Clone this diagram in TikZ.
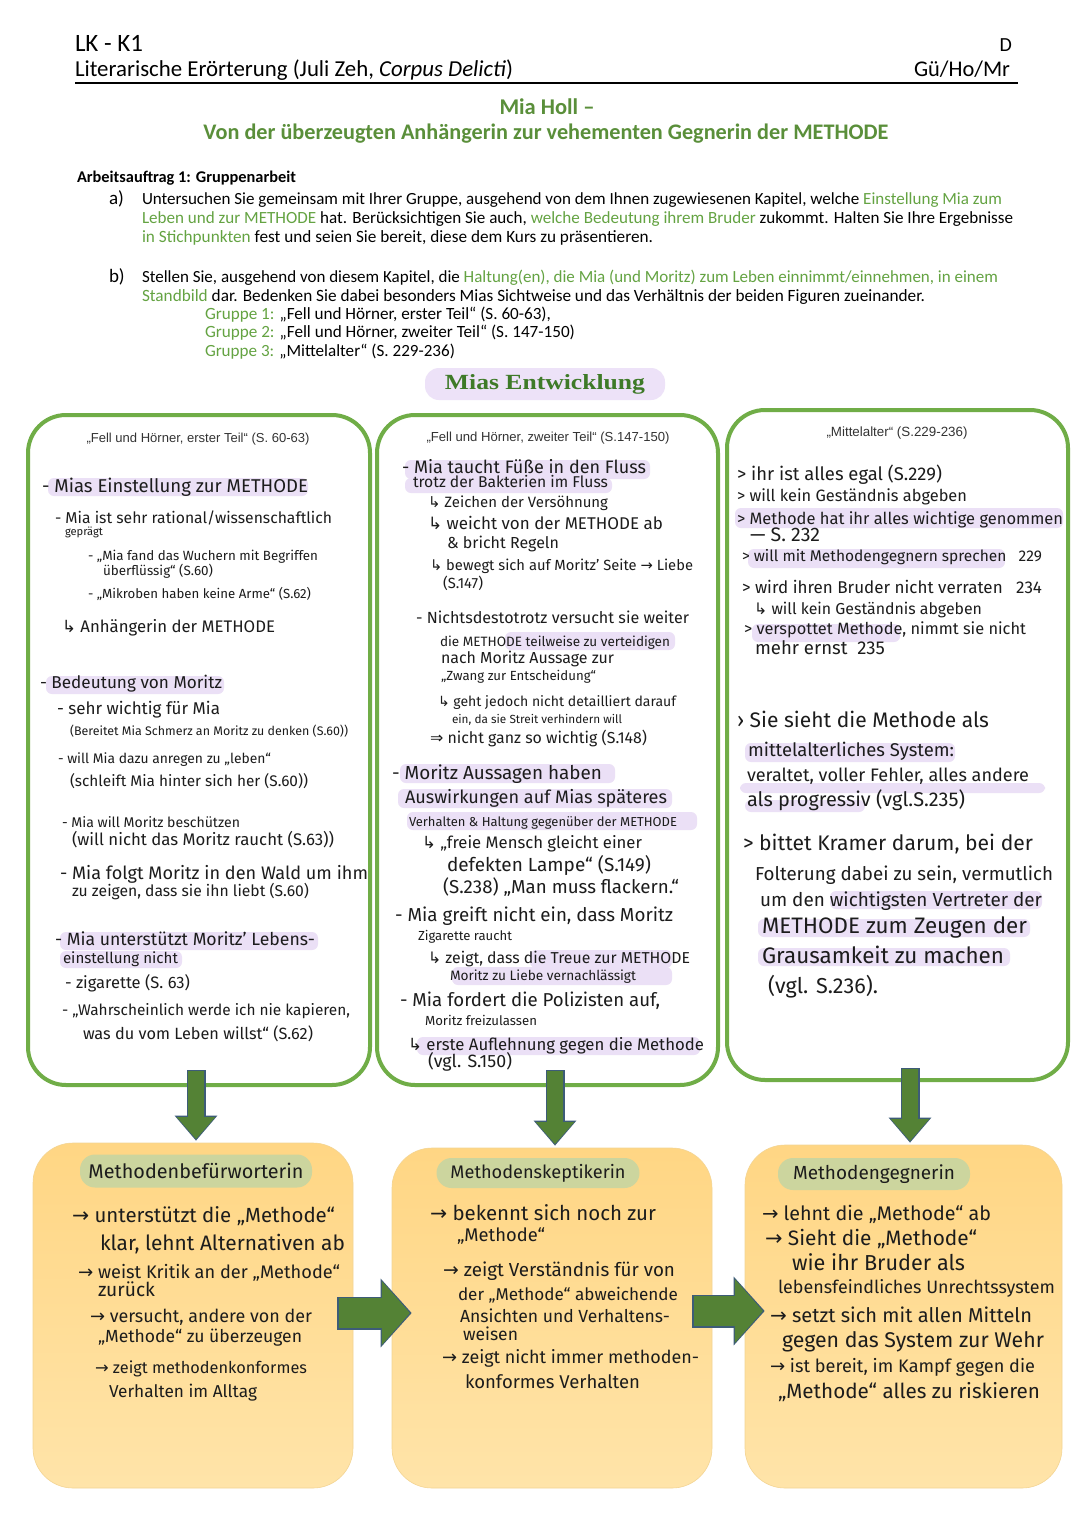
\documentclass[tikz,border=0pt]{standalone}
\usepackage{fontspec}
\usepackage{graphicx}
\setmainfont{Carlito}
\newfontfamily\hwf{Fira Sans}
\newfontfamily\arialf{Liberation Sans}
\newfontfamily\seriff{Liberation Serif}
\newfontfamily\symf{DejaVu Sans}
\usetikzlibrary{calc,arrows.meta}

\definecolor{boxgreen}{HTML}{70AD47}
\definecolor{arrowgreen}{HTML}{548235}
\definecolor{arrowborder}{HTML}{3D5C78}
\definecolor{hl}{HTML}{EBE0F6}
\definecolor{hlpill}{HTML}{EDE2F8}
\definecolor{pillgreen}{HTML}{CCD59E}
\definecolor{boxtop}{HTML}{FFD684}
\definecolor{boxbot}{HTML}{FFE4A9}
\definecolor{boxedge}{HTML}{F3D594}
\definecolor{titlegreen}{HTML}{5A8F3A}
\definecolor{taskgreen}{HTML}{64A342}
\definecolor{pilltext}{HTML}{3E7A28}
\definecolor{ink}{HTML}{1C1C1C}
\definecolor{hdgray}{HTML}{333333}

\newcommand\grn[1]{\textcolor{taskgreen}{#1}}
\newcommand\arrR{{\symf →}}
\newcommand\hkarr{{\symf ↳}}
\newcommand\Rarr{{\symf ⇒}}
\newcommand\hw[5]{\node[hwt] (#1) at (#2,#3) {\resizebox{#4pt}{!}{#5}};}
\newcommand\fatpair[3]{\draw[arrowborder,#1] #2 -- #3; \draw[arrowgreen,#1i] #2 -- #3;}

\tikzset{
  hwt/.style={anchor=base west, inner sep=0pt, outer sep=0pt, text=ink, font=\hwf\fontsize{14}{16}\selectfont},
  typ/.style={anchor=base west, inner sep=0pt, outer sep=0pt, text=black, font=\fontsize{16}{19}\selectfont},
  colhead/.style={anchor=base, inner sep=0pt, text=hdgray, font=\arialf\fontsize{12}{14}\selectfont},
  colbox/.style={draw=boxgreen, line width=4pt, rounded corners=38pt, fill=white, inner sep=0pt},
  botbox/.style={rounded corners=40pt, top color=boxtop, bottom color=boxbot, draw=boxedge, line width=0.6pt, inner sep=0pt},
  pill/.style={fill=pillgreen, rounded corners=15pt, inner sep=0pt, text=ink, font=\hwf\fontsize{14}{16}\selectfont},
  hlbar/.style={fill=hl, rounded corners=6pt},
  fatD/.style={line width=19pt, -{Triangle[width=41pt,length=25pt]}},
  fatDi/.style={line width=16pt, -{Triangle[width=37pt,length=22pt]}, shorten >=1.6pt, shorten <=1.2pt},
  fatR/.style={line width=33pt, -{Triangle[width=67pt,length=31pt]}},
  fatRi/.style={line width=30pt, -{Triangle[width=62pt,length=28pt]}, shorten >=1.8pt, shorten <=1.2pt},
}

\begin{document}
\begin{tikzpicture}[x=1pt, y=-1pt]
\useasboundingbox (0,0) rectangle (1080,1528);
\fill[white] (0,0) rectangle (1080,1528);

% ---------- page header ----------
\node[typ, font=\fontsize{20}{24}\selectfont] (hdA) at (75,52) {\resizebox{68pt}{!}{LK - K1}};
\node[typ, anchor=base east, font=\fontsize{20}{24}\selectfont] (hdB) at (1012,52) {D};
\node[typ] (hdC) at (75,77) {\resizebox{438pt}{!}{Literarische Erörterung (Juli Zeh, \textit{Corpus Delicti})}};
\node[typ, anchor=base east] (hdD) at (1010,77) {\resizebox{96pt}{!}{Gü/Ho/Mr}};
\draw[line width=1.2pt] (75,83) -- (1018,83);

% ---------- title ----------
\node[typ, anchor=base, text=titlegreen, font=\bfseries\fontsize{20}{24}\selectfont] (ti1) at (547,114) {\resizebox{95pt}{!}{Mia Holl –}};
\node[typ, anchor=base, text=titlegreen, font=\bfseries\fontsize{20}{24}\selectfont] (ti2) at (546,139) {\resizebox{685pt}{!}{Von der überzeugten Anhängerin zur vehementen Gegnerin der METHODE}};

% ---------- task ----------
\node[typ, font=\bfseries\fontsize{16}{19}\selectfont] (aa) at (77,182) {\resizebox{219pt}{!}{Arbeitsauftrag 1: Gruppenarbeit}};
\node[typ, font=\fontsize{19}{22}\selectfont] (la) at (109,204) {a)};
\node[typ] (ta1) at (142,204) {\resizebox{860pt}{!}{Untersuchen Sie gemeinsam mit Ihrer Gruppe, ausgehend von dem Ihnen zugewiesenen Kapitel, welche \grn{Einstellung Mia zum}}};
\node[typ] (ta2) at (142,223) {\resizebox{871pt}{!}{\grn{Leben und zur METHODE} hat. Berücksichtigen Sie auch, \grn{welche Bedeutung ihrem Bruder} zukommt. Halten Sie Ihre Ergebnisse}};
\node[typ] (ta3) at (142,242) {\resizebox{511pt}{!}{\grn{in Stichpunkten} fest und seien Sie bereit, diese dem Kurs zu präsentieren.}};
\node[typ, font=\fontsize{19}{22}\selectfont] (lb) at (109,282) {b)};
\node[typ] (tb1) at (142,282) {\resizebox{856pt}{!}{Stellen Sie, ausgehend von diesem Kapitel, die \grn{Haltung(en), die Mia (und Moritz) zum Leben einnimmt/einnehmen, in einem}}};
\node[typ] (tb2) at (142,301) {\resizebox{783pt}{!}{\grn{Standbild} dar. Bedenken Sie dabei besonders Mias Sichtweise und das Verhältnis der beiden Figuren zueinander.}};
\node[typ] (tg1) at (205,319) {\resizebox{346pt}{!}{\grn{Gruppe 1:} „Fell und Hörner, erster Teil“ (S. 60-63),}};
\node[typ] (tg2) at (205,337) {\resizebox{370pt}{!}{\grn{Gruppe 2:} „Fell und Hörner, zweiter Teil“ (S. 147-150)}};
\node[typ] (tg3) at (205,356) {\resizebox{250pt}{!}{\grn{Gruppe 3:} „Mittelalter“ (S. 229-236)}};

% ---------- Mias Entwicklung ----------
\node[fill=hlpill, rounded corners=14pt, minimum width=240pt, minimum height=32pt, inner sep=0pt] (mias) at (545,384) {\resizebox{200pt}{15pt}{\seriff\bfseries\color{pilltext}Mias Entwicklung}};

% ---------- boxes ----------
\node[colbox, minimum width=342pt, minimum height=670pt] (col1) at (199,750) {};
\node[colbox, minimum width=341pt, minimum height=670pt] (col2) at (547.5,750) {};
\node[colbox, minimum width=341pt, minimum height=670pt] (col3) at (897.5,745) {};

\node[botbox, minimum width=320pt, minimum height=345pt] (bot1) at (193,1315.5) {};
\node[botbox, minimum width=320pt, minimum height=340pt] (bot2) at (552,1318) {};
\node[botbox, minimum width=317pt, minimum height=343pt] (bot3) at (903.5,1316.5) {};

% ---------- arrows ----------
\fatpair{fatD}{($(col1.south)+(-3,-17)$)}{($(bot1.north)+(3,-2)$)}
\fatpair{fatD}{($(col2.south)+(7.5,-17)$)}{($(bot2.north)+(3,-2)$)}
\fatpair{fatD}{($(col3.south)+(12.5,-14)$)}{($(bot3.north)+(6.5,-2)$)}
\fatpair{fatR}{($(bot1.east)+(-16,-2.5)$)}{($(bot2.west)+(20,-5)$)}
\fatpair{fatR}{($(bot2.east)+(-20,-7)$)}{($(bot3.west)+(20,-5.5)$)}

% ---------- highlights ----------
\fill[hlbar] (48,478) rectangle (308,496);
\fill[hlbar] (46,676) rectangle (224,694);
\fill[hlbar] (60,932) rectangle (318,950);
\fill[hlbar] (60,951) rectangle (182,968);
\fill[hlbar] (405,460) rectangle (650,479);
\fill[hlbar] (405,478) rectangle (612,493);
\fill[hlbar] (505,632) rectangle (675,650);
\fill[hlbar] (400,764) rectangle (615,783);
\fill[hlbar] (398,789) rectangle (672,808);
\fill[hlbar] (407,812) rectangle (697,830);
\fill[hlbar] (530,950) rectangle (672,968);
\fill[hlbar] (452,967) rectangle (672,985);
\fill[hlbar] (417,1037) rectangle (700,1055);
\fill[hlbar] (735,508) rectangle (1063,528);
\fill[hlbar] (748,549) rectangle (1005,568);
\fill[hlbar] (752,624) rectangle (900,642);
\fill[hlbar] (745,743) rectangle (955,762);
\fill[hlbar] (740,783) rectangle (1045,793);
\fill[hlbar] (745,800) rectangle (865,812);
\fill[hlbar] (830,891) rectangle (1042,909);
\fill[hlbar] (758,919) rectangle (1030,937);
\fill[hlbar] (758,948) rectangle (1010,966);

% ---------- column headers ----------
\node[colhead] (hd1) at (198,442) {\resizebox{223pt}{!}{„Fell und Hörner, erster Teil“ (S. 60-63)}};
\node[colhead] (hd2) at (548,441) {\resizebox{243pt}{!}{„Fell und Hörner, zweiter Teil“ (S.147-150)}};
\node[colhead] (hd3) at (897,436) {\resizebox{141pt}{!}{„Mittelalter“ (S.229-236)}};

% ---------- column 1 ----------
\hw{c1a}{42}{492}{266}{- Mias Einstellung zur METHODE}
\hw{c1b}{55}{523}{277}{- Mia ist sehr rational/wissenschaftlich}
\hw{c1c}{65}{535}{38}{geprägt}
\hw{c1d}{88}{560}{230}{- „Mia fand das Wuchern mit Begriffen}
\hw{c1e}{103}{575}{110}{überflüssig“ (S.60)}
\hw{c1f}{88}{598}{223}{- „Mikroben haben keine Arme“ (S.62)}
\hw{c1g}{62}{632}{213}{\hkarr\ Anhängerin der METHODE}
\hw{c1h}{40}{688}{182}{- Bedeutung von Moritz}
\hw{c1i}{57}{714}{163}{- sehr wichtig für Mia}
\hw{c1j}{70}{735}{278}{(Bereitet Mia Schmerz an Moritz zu denken (S.60))}
\hw{c1k}{58}{763}{213}{- will Mia dazu anregen zu „leben“}
\hw{c1l}{70}{786}{238}{(schleift Mia hinter sich her (S.60))}
\hw{c1m}{62}{827}{178}{- Mia will Moritz beschützen}
\hw{c1n}{72}{845}{262}{(will nicht das Moritz raucht (S.63))}
\hw{c1o}{60}{879}{308}{- Mia folgt Moritz in den Wald um ihm}
\hw{c1p}{72}{896}{237}{zu zeigen, dass sie ihn liebt (S.60)}
\hw{c1q}{55}{945}{260}{- Mia unterstützt Moritz’ Lebens-}
\hw{c1r}{63}{963}{115}{einstellung nicht}
\hw{c1s}{65}{988}{125}{- zigarette (S. 63)}
\hw{c1t}{62}{1015}{288}{- „Wahrscheinlich werde ich nie kapieren,}
\hw{c1u}{83}{1039}{230}{was du vom Leben willst“ (S.62)}

% ---------- column 2 ----------
\hw{c2a}{402}{473}{244}{- Mia taucht Füße in den Fluss}
\hw{c2b}{413}{487}{195}{trotz der Bakterien im Fluss}
\hw{c2c}{428}{507}{180}{\hkarr\ Zeichen der Versöhnung}
\hw{c2d}{428}{529}{235}{\hkarr\ weicht von der METHODE ab}
\hw{c2e}{447}{548}{112}{\& bricht Regeln}
\hw{c2f}{430}{570}{263}{\hkarr\ bewegt sich auf Moritz’ Seite \arrR\ Liebe}
\hw{c2g}{443}{588}{40}{(S.147)}
\hw{c2h}{416}{623}{273}{- Nichtsdestotrotz versucht sie weiter}
\hw{c2i}{440}{646}{230}{die METHODE teilweise zu verteidigen}
\hw{c2j}{441}{663}{173}{nach Moritz Aussage zur}
\hw{c2k}{441}{680}{155}{„Zwang zur Entscheidung“}
\hw{c2l}{438}{706}{238}{\hkarr\ geht jedoch nicht detailliert darauf}
\hw{c2m}{452}{723}{170}{ein, da sie Streit verhindern will}
\hw{c2n}{430}{743}{217}{\Rarr\ nicht ganz so wichtig (S.148)}
\hw{c2o}{392}{779}{210}{- Moritz Aussagen haben}
\hw{c2p}{405}{803}{262}{Auswirkungen auf Mias späteres}
\hw{c2q}{409}{826}{268}{Verhalten \& Haltung gegenüber der METHODE}
\hw{c2r}{422}{848}{220}{\hkarr\ „freie Mensch gleicht einer}
\hw{c2s}{447}{871}{204}{defekten Lampe“ (S.149)}
\hw{c2t}{443}{893}{236}{(S.238) „Man muss flackern.“}
\hw{c2u}{395}{921}{278}{- Mia greift nicht ein, dass Moritz}
\hw{c2v}{418}{940}{94}{Zigarette raucht}
\hw{c2w}{428}{963}{262}{\hkarr\ zeigt, dass die Treue zur METHODE}
\hw{c2x}{450}{980}{186}{Moritz zu Liebe vernachlässigt}
\hw{c2y}{400}{1006}{260}{- Mia fordert die Polizisten auf,}
\hw{c2z}{425}{1025}{112}{Moritz freizulassen}
\hw{c2A}{408}{1050}{296}{\hkarr\ erste Auflehnung gegen die Methode}
\hw{c2B}{428}{1067}{84}{(vgl. S.150)}

% ---------- column 3 ----------
\hw{c3a}{737}{480}{205}{> ihr ist alles egal (S.229)}
\hw{c3b}{737}{501}{230}{> will kein Geständnis abgeben}
\hw{c3c}{737}{524}{326}{> Methode hat ihr alles wichtige genommen}
\hw{c3d}{750}{541}{70}{— S. 232}
\hw{c3e}{742}{561}{300}{> will mit Methodengegnern sprechen \ \ 229}
\hw{c3f}{742}{593}{300}{> wird ihren Bruder nicht verraten \ \ 234}
\hw{c3g}{754}{614}{228}{\hkarr\ will kein Geständnis abgeben}
\hw{c3h}{744}{634}{282}{> verspottet Methode, nimmt sie nicht}
\hw{c3i}{755}{654}{130}{mehr ernst \ 235}
\hw{c3j}{737}{727}{252}{› Sie sieht die Methode als}
\hw{c3k}{748}{756}{206}{mittelalterliches System:}
\hw{c3l}{747}{781}{282}{veraltet, voller Fehler, alles andere}
\hw{c3m}{747}{806}{218}{als progressiv (vgl.S.235)}
\hw{c3n}{743}{850}{290}{> bittet Kramer darum, bei der}
\hw{c3o}{755}{880}{298}{Folterung dabei zu sein, vermutlich}
\hw{c3p}{760}{906}{282}{um den wichtigsten Vertreter der}
\hw{c3q}{762}{933}{265}{METHODE zum Zeugen der}
\hw{c3r}{762}{963}{242}{Grausamkeit zu machen}
\hw{c3s}{768}{993}{110}{(vgl. S.236).}

% ---------- bottom pills ----------
\node[pill, minimum width=232pt, minimum height=33pt] (p1) at (196,1171) {\resizebox{215pt}{!}{Methodenbefürworterin}};
\node[pill, minimum width=203pt, minimum height=30pt] (p2) at (538,1173) {\resizebox{175pt}{!}{Methodenskeptikerin}};
\node[pill, minimum width=192pt, minimum height=32pt] (p3) at (874,1174) {\resizebox{162pt}{!}{Methodengegnerin}};

% ---------- bottom box 1 ----------
\hw{b1a}{72}{1222}{263}{\arrR\ unterstützt die „Methode“}
\hw{b1b}{100}{1250}{245}{klar, lehnt Alternativen ab}
\hw{b1c}{78}{1278}{262}{\arrR\ weist Kritik an der „Methode“}
\hw{b1d}{98}{1296}{57}{zurück}
\hw{b1e}{90}{1322}{222}{\arrR\ versucht, andere von der}
\hw{b1f}{98}{1342}{204}{„Methode“ zu überzeugen}
\hw{b1g}{95}{1373}{212}{\arrR\ zeigt methodenkonformes}
\hw{b1h}{109}{1397}{148}{Verhalten im Alltag}

% ---------- bottom box 2 ----------
\hw{b2a}{430}{1220}{226}{\arrR\ bekennt sich noch zur}
\hw{b2b}{457}{1241}{88}{„Methode“}
\hw{b2c}{443}{1276}{232}{\arrR\ zeigt Verständnis für von}
\hw{b2d}{458}{1300}{220}{der „Methode“ abweichende}
\hw{b2e}{460}{1322}{210}{Ansichten und Verhaltens-}
\hw{b2f}{463}{1340}{55}{weisen}
\hw{b2g}{442}{1363}{257}{\arrR\ zeigt nicht immer methoden-}
\hw{b2h}{465}{1388}{175}{konformes Verhalten}

% ---------- bottom box 3 ----------
\hw{b3a}{762}{1220}{229}{\arrR\ lehnt die „Methode“ ab}
\hw{b3b}{765}{1245}{212}{\arrR\ Sieht die „Methode“}
\hw{b3c}{792}{1270}{173}{wie ihr Bruder als}
\hw{b3d}{778}{1293}{277}{lebensfeindliches Unrechtssystem}
\hw{b3e}{770}{1322}{262}{\arrR\ setzt sich mit allen Mitteln}
\hw{b3f}{782}{1347}{262}{gegen das System zur Wehr}
\hw{b3g}{770}{1372}{265}{\arrR\ ist bereit, im Kampf gegen die}
\hw{b3h}{778}{1398}{262}{„Methode“ alles zu riskieren}
\end{tikzpicture}
\end{document}
